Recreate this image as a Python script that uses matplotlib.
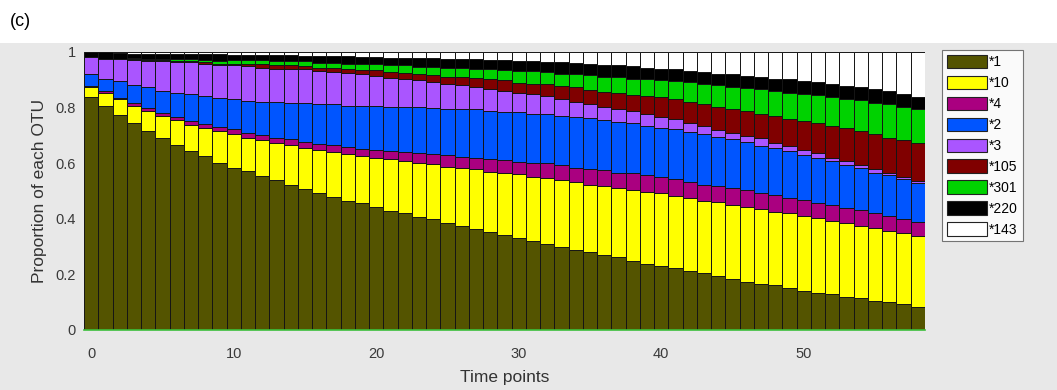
import numpy as np
import matplotlib.pyplot as plt
from matplotlib.patches import Patch, Rectangle

# time points 0..58
time_points = list(range(59))

otu_labels = ['*1', '*10', '*4', '*2', '*3', '*105', '*301', '*220', '*143']
otu_colors = ['#545400', '#ffff00', '#aa0080', '#0055ff', '#aa55ff',
              '#800000', '#00d200', '#000000', '#ffffff']

# cumulative top of each OTU in the stack
top_1 = [0.836, 0.805, 0.772, 0.743, 0.715, 0.689, 0.666, 0.643, 0.625, 0.602,
         0.584, 0.570, 0.553, 0.539, 0.521, 0.507, 0.493, 0.479, 0.465, 0.455,
         0.443, 0.429, 0.419, 0.405, 0.398, 0.383, 0.374, 0.362, 0.351, 0.341,
         0.329, 0.320, 0.309, 0.297, 0.287, 0.279, 0.269, 0.261, 0.248, 0.237,
         0.231, 0.222, 0.212, 0.204, 0.194, 0.183, 0.174, 0.165, 0.162, 0.150,
         0.141, 0.132, 0.128, 0.117, 0.114, 0.104, 0.099, 0.092, 0.084]
top_10 = [0.875, 0.853, 0.830, 0.807, 0.788, 0.770, 0.756, 0.738, 0.725, 0.715,
          0.703, 0.692, 0.684, 0.674, 0.665, 0.655, 0.647, 0.641, 0.631, 0.626,
          0.619, 0.614, 0.606, 0.601, 0.596, 0.587, 0.583, 0.577, 0.569, 0.563,
          0.559, 0.551, 0.547, 0.539, 0.533, 0.523, 0.519, 0.509, 0.505, 0.497,
          0.491, 0.483, 0.473, 0.465, 0.461, 0.451, 0.443, 0.434, 0.425, 0.419,
          0.410, 0.401, 0.392, 0.383, 0.374, 0.365, 0.356, 0.347, 0.338]
top_4 = [0.879, 0.859, 0.834, 0.817, 0.799, 0.781, 0.766, 0.750, 0.739, 0.729,
         0.722, 0.710, 0.701, 0.691, 0.685, 0.677, 0.668, 0.665, 0.659, 0.650,
         0.648, 0.643, 0.641, 0.637, 0.632, 0.629, 0.623, 0.619, 0.614, 0.611,
         0.605, 0.602, 0.599, 0.593, 0.584, 0.578, 0.575, 0.566, 0.563, 0.557,
         0.549, 0.543, 0.533, 0.523, 0.519, 0.511, 0.503, 0.493, 0.485, 0.475,
         0.467, 0.457, 0.449, 0.437, 0.431, 0.419, 0.411, 0.399, 0.389]
top_2 = [0.921, 0.904, 0.895, 0.880, 0.872, 0.861, 0.853, 0.848, 0.841, 0.835,
         0.832, 0.824, 0.819, 0.818, 0.816, 0.816, 0.811, 0.811, 0.806, 0.805,
         0.806, 0.802, 0.802, 0.802, 0.799, 0.796, 0.793, 0.793, 0.788, 0.784,
         0.784, 0.778, 0.776, 0.770, 0.766, 0.763, 0.754, 0.749, 0.743, 0.733,
         0.725, 0.721, 0.713, 0.704, 0.695, 0.685, 0.677, 0.662, 0.653, 0.643,
         0.629, 0.620, 0.607, 0.593, 0.581, 0.566, 0.557, 0.543, 0.527]
top_3 = [0.981, 0.976, 0.976, 0.971, 0.968, 0.966, 0.962, 0.962, 0.958, 0.954,
         0.952, 0.948, 0.943, 0.940, 0.940, 0.937, 0.932, 0.928, 0.923, 0.920,
         0.913, 0.907, 0.904, 0.898, 0.892, 0.884, 0.880, 0.874, 0.866, 0.860,
         0.853, 0.848, 0.841, 0.832, 0.820, 0.814, 0.802, 0.796, 0.788, 0.775,
         0.766, 0.758, 0.743, 0.733, 0.719, 0.710, 0.697, 0.689, 0.673, 0.661,
         0.647, 0.635, 0.620, 0.607, 0.593, 0.578, 0.566, 0.551, 0.537]
top_105 = [0.981, 0.976, 0.976, 0.974, 0.972, 0.970, 0.968, 0.966, 0.964, 0.958,
           0.956, 0.958, 0.955, 0.953, 0.952, 0.949, 0.943, 0.942, 0.938, 0.935,
           0.934, 0.928, 0.925, 0.922, 0.916, 0.910, 0.908, 0.905, 0.901, 0.898,
           0.889, 0.886, 0.883, 0.877, 0.874, 0.862, 0.856, 0.853, 0.844, 0.841,
           0.838, 0.829, 0.820, 0.811, 0.802, 0.796, 0.788, 0.778, 0.770, 0.760,
           0.752, 0.743, 0.734, 0.725, 0.716, 0.703, 0.691, 0.683, 0.674]
top_301 = [0.981, 0.976, 0.976, 0.978, 0.976, 0.976, 0.975, 0.975, 0.972, 0.968,
           0.970, 0.970, 0.969, 0.968, 0.967, 0.966, 0.961, 0.960, 0.958, 0.956,
           0.956, 0.952, 0.951, 0.947, 0.946, 0.943, 0.942, 0.940, 0.938, 0.934,
           0.931, 0.930, 0.926, 0.922, 0.921, 0.916, 0.910, 0.908, 0.904, 0.904,
           0.898, 0.895, 0.890, 0.884, 0.880, 0.874, 0.871, 0.866, 0.859, 0.853,
           0.848, 0.844, 0.836, 0.830, 0.826, 0.817, 0.811, 0.802, 0.796]
top_220 = [1.000, 1.000, 0.996, 0.994, 0.994, 0.993, 0.993, 0.992, 0.992, 0.991,
           0.989, 0.988, 0.988, 0.987, 0.987, 0.986, 0.986, 0.985, 0.984, 0.983,
           0.982, 0.979, 0.978, 0.978, 0.977, 0.975, 0.975, 0.974, 0.971, 0.969,
           0.967, 0.966, 0.963, 0.962, 0.959, 0.955, 0.953, 0.951, 0.950, 0.942,
           0.940, 0.937, 0.932, 0.928, 0.922, 0.919, 0.914, 0.910, 0.904, 0.901,
           0.896, 0.890, 0.883, 0.877, 0.872, 0.865, 0.859, 0.850, 0.838]
top_143 = [1.0] * 59

tops = np.array([top_1, top_10, top_4, top_2, top_3, top_105, top_301, top_220, top_143])
shares = np.diff(np.vstack([np.zeros(len(time_points)), tops]), axis=0)

fig = plt.figure(figsize=(10.57, 3.9), dpi=100)
fig.patch.set_facecolor('white')
# grey panel behind the chart (MATLAB figure colour)
fig.add_artist(Rectangle((0, 0), 1, 347 / 390, transform=fig.transFigure,
                         facecolor='#e8e8e8', edgecolor='none', zorder=-10))
fig.text(0.009, 0.945, '(c)', fontsize=13, family='Liberation Sans', va='center')

ax = fig.add_axes([0.0795, 0.154, 0.7955, 0.713])
ax.set_facecolor('white')

bottom = np.zeros(len(time_points))
for share, color, label in zip(shares, otu_colors, otu_labels):
    ax.bar(time_points, share, width=1.0, bottom=bottom, color=color,
           edgecolor='#151515', linewidth=0.7, label=label)
    bottom += share

ax.set_xlim(-0.5, 58.5)
ax.set_ylim(0, 1)
ax.set_xticks([0, 10, 20, 30, 40, 50])
ax.set_yticks([0, 0.2, 0.4, 0.6, 0.8, 1])
ax.set_yticklabels(['0', '0.2', '0.4', '0.6', '0.8', '1'])
ax.tick_params(length=0, labelsize=10.5, colors='#3a3a3a', pad=6)
ax.tick_params(axis='x', pad=12)
for lab in ax.get_xticklabels() + ax.get_yticklabels():
    lab.set_family('Liberation Sans')
for side in ['top', 'left', 'right']:
    ax.spines[side].set_visible(False)
ax.spines['bottom'].set_color('#3cbf3c')
ax.spines['bottom'].set_linewidth(1.2)

ax.set_xlabel('Time points', fontsize=12.5, family='Liberation Sans', color='#333333', labelpad=7)
ax.set_ylabel('Proportion of each OTU', fontsize=12.5, family='Liberation Sans', color='#333333', labelpad=6)

handles = [Patch(facecolor=c, edgecolor='#222222', linewidth=0.8) for c in otu_colors]
leg = fig.legend(handles, otu_labels, loc='upper left', bbox_to_anchor=(942 / 1057, 1 - 50 / 390),
                 prop={'family': 'Liberation Sans', 'size': 10}, frameon=True, fancybox=False,
                 handlelength=2.9, handleheight=1.1, handletextpad=0.15, labelspacing=0.47,
                 borderpad=0.35, borderaxespad=0)
leg.get_frame().set_edgecolor('#555555')
leg.get_frame().set_linewidth(0.8)

plt.savefig('out.png', dpi=100)
